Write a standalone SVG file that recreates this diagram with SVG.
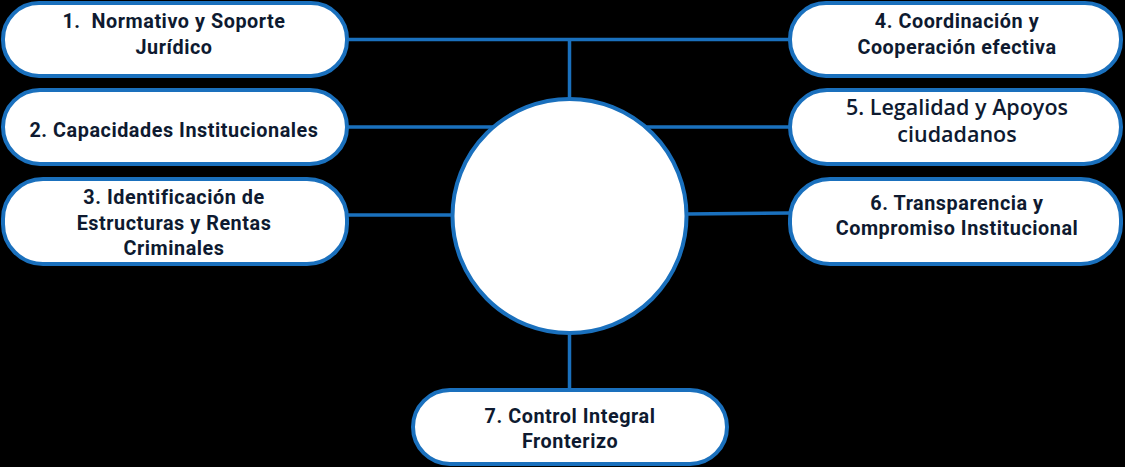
<svg xmlns="http://www.w3.org/2000/svg" width="1125" height="467" viewBox="0 0 1125 467">
<style>
.box{fill:#fff;stroke:#1a70bd;stroke-width:4}
.ln{stroke:#1a70bd;stroke-width:3.5;fill:none}
.t{font-family:Roboto,"Liberation Sans",sans-serif;font-weight:700;font-size:19.8px;letter-spacing:0.55px;fill:#0e1a30;text-anchor:middle;white-space:pre}
.t5{font-family:"Open Sans","Liberation Sans",sans-serif;font-weight:600;font-size:21.5px;fill:#0e1a30;text-anchor:middle}
</style>
<rect width="1125" height="467" fill="#000"/>
<g id="connectors">
<line class="ln" x1="347" y1="39.5" x2="790" y2="39.5"/>
<line class="ln" x1="569.5" y1="39.5" x2="569.5" y2="99"/>
<line class="ln" x1="347" y1="127" x2="494" y2="127"/>
<line class="ln" x1="646" y1="127" x2="790" y2="127"/>
<line class="ln" x1="347" y1="215" x2="452" y2="215"/>
<line class="ln" x1="687" y1="214" x2="790" y2="213"/>
<line class="ln" x1="569.5" y1="333" x2="569.5" y2="390"/>
</g>
<g id="center"><circle class="box" cx="569.5" cy="216" r="117"/></g>
<g id="n1"><rect class="box" x="3" y="3" width="344" height="73" rx="36"/>
<text class="t" x="174" y="28">1.  Normativo y Soporte</text><text class="t" x="174" y="54">Jurídico</text></g>
<g id="n2"><rect class="box" x="3" y="90" width="344" height="74" rx="37"/>
<text class="t" x="174" y="137">2. Capacidades Institucionales</text></g>
<g id="n3"><rect class="box" x="3" y="179" width="344" height="85" rx="40"/>
<text class="t" x="174" y="204">3. Identificación de</text><text class="t" x="174" y="230">Estructuras y Rentas</text><text class="t" x="174" y="255">Criminales</text></g>
<g id="n4"><rect class="box" x="790" y="3" width="331" height="73" rx="36"/>
<text class="t" x="957" y="28">4. Coordinación y</text><text class="t" x="957" y="54">Cooperación efectiva</text></g>
<g id="n5"><rect class="box" x="790" y="90" width="331" height="74" rx="37"/>
<text class="t5" x="957" y="115">5. Legalidad y Apoyos</text><text class="t5" x="957" y="142">ciudadanos</text></g>
<g id="n6"><rect class="box" x="790" y="179" width="331" height="85" rx="40"/>
<text class="t" x="957" y="210">6. Transparencia y</text><text class="t" x="957" y="235">Compromiso Institucional</text></g>
<g id="n7"><rect class="box" x="413" y="390" width="314" height="74" rx="37"/>
<text class="t" x="570" y="423">7. Control Integral</text><text class="t" x="570" y="448">Fronterizo</text></g>
</svg>
